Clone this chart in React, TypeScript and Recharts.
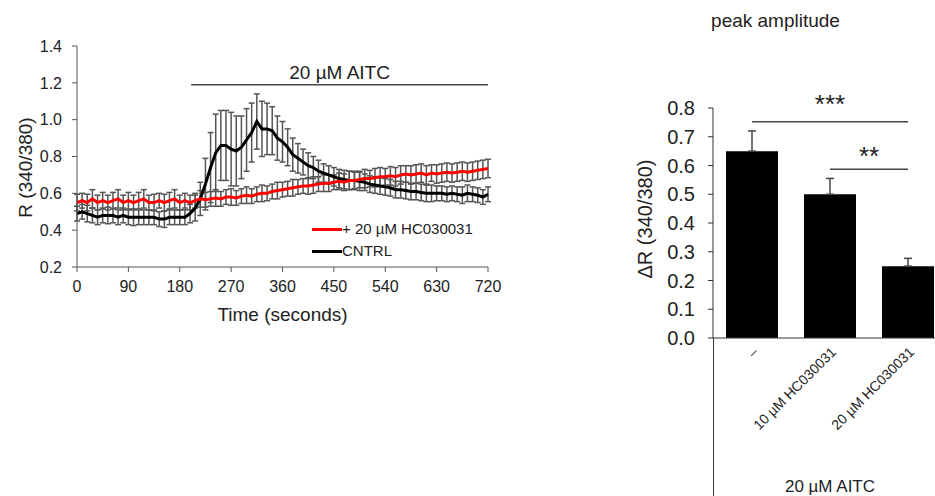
import {
  Bar,
  BarChart,
  ErrorBar,
  Label,
  Line,
  LineChart,
  ReferenceLine,
  XAxis,
  YAxis,
} from "recharts";

// time course, one sample every 9 s from 0 to 720 s
const times = Array.from({ length: 81 }, (_, i) => i * 9);

const cntrlMean = [
  0.49, 0.5, 0.49, 0.48, 0.47, 0.48, 0.48, 0.48, 0.47, 0.48, 0.47, 0.47, 0.47, 0.47, 0.47, 0.47, 0.46, 0.46, 0.47, 0.47, 0.47,
  0.47, 0.49, 0.52, 0.57, 0.65, 0.74, 0.82, 0.86, 0.86, 0.84, 0.83, 0.85, 0.89, 0.93, 0.99, 0.95, 0.95, 0.94, 0.9, 0.88, 0.85, 0.81, 0.79, 0.77, 0.75,
  0.74, 0.72, 0.71, 0.7, 0.69, 0.68, 0.675, 0.67, 0.67, 0.665, 0.66, 0.65, 0.645, 0.64, 0.635, 0.63, 0.62, 0.62, 0.615, 0.61, 0.61, 0.605, 0.6, 0.6,
  0.6, 0.6, 0.595, 0.6, 0.595, 0.59, 0.6, 0.595, 0.59, 0.58, 0.595,
];

const cntrlErr = [
  0.04, 0.04, 0.045, 0.04, 0.04, 0.04, 0.045, 0.04, 0.04, 0.04, 0.04, 0.045, 0.04, 0.04, 0.04, 0.04, 0.04, 0.045, 0.04, 0.04, 0.04,
  0.04, 0.05, 0.07, 0.09, 0.14, 0.19, 0.21, 0.19, 0.19, 0.2, 0.19, 0.17, 0.17, 0.16, 0.15, 0.15, 0.14, 0.13, 0.12, 0.11, 0.1, 0.09, 0.08, 0.07, 0.07,
  0.06, 0.06, 0.05, 0.05, 0.05, 0.05, 0.05, 0.05, 0.05, 0.05, 0.045, 0.045, 0.045, 0.045, 0.045, 0.045, 0.045, 0.045, 0.045, 0.045, 0.045, 0.045, 0.045, 0.045,
  0.04, 0.04, 0.04, 0.04, 0.04, 0.045, 0.045, 0.04, 0.04, 0.04, 0.04,
];

const hcMean = [
  0.55, 0.56, 0.55, 0.57, 0.55, 0.56, 0.55, 0.56, 0.57, 0.55, 0.56, 0.55, 0.56, 0.57, 0.55, 0.55, 0.56, 0.55, 0.56, 0.57, 0.55,
  0.56, 0.55, 0.56, 0.57, 0.565, 0.57, 0.575, 0.57, 0.58, 0.58, 0.575, 0.585, 0.59, 0.585, 0.595, 0.6, 0.6, 0.61, 0.615, 0.62, 0.625, 0.63, 0.635, 0.64, 0.64,
  0.645, 0.65, 0.655, 0.655, 0.66, 0.665, 0.66, 0.67, 0.67, 0.675, 0.68, 0.68, 0.685, 0.69, 0.69, 0.695, 0.69, 0.7, 0.705, 0.7, 0.705, 0.71, 0.7, 0.71,
  0.705, 0.71, 0.715, 0.71, 0.715, 0.72, 0.715, 0.72, 0.725, 0.73, 0.735,
];

const hcErr = [
  0.045, 0.04, 0.045, 0.05, 0.04, 0.045, 0.04, 0.045, 0.05, 0.04, 0.045, 0.04, 0.045, 0.05, 0.04, 0.045, 0.04, 0.045, 0.045, 0.05, 0.04,
  0.04, 0.04, 0.04, 0.045, 0.04, 0.04, 0.045, 0.04, 0.04, 0.045, 0.04, 0.04, 0.045, 0.04, 0.04, 0.045, 0.04, 0.04, 0.045, 0.04, 0.04, 0.045, 0.04, 0.04, 0.045,
  0.045, 0.04, 0.045, 0.045, 0.04, 0.045, 0.045, 0.05, 0.045, 0.045, 0.05, 0.045, 0.05, 0.05, 0.045, 0.05, 0.05, 0.05, 0.045, 0.05, 0.05, 0.05, 0.05, 0.045,
  0.05, 0.05, 0.05, 0.05, 0.05, 0.05, 0.05, 0.05, 0.05, 0.05, 0.05,
];

const timeTicks = [0, 90, 180, 270, 360, 450, 540, 630, 720];
const ratioTicks = [0.2, 0.4, 0.6, 0.8, 1.0, 1.2, 1.4];

// peak amplitude bars
const treatments = ["–", "10 µM HC030031", "20 µM HC030031"];
const peakMean = [0.65, 0.5, 0.25];
const peakErr = [0.07, 0.055, 0.027];
const peakTicks = [0, 0.1, 0.2, 0.3, 0.4, 0.5, 0.6, 0.7, 0.8];

const FONT = '"Liberation Sans", Arial, sans-serif';
const INK = "#222";
const ERR = "#555";

const traceData = times.map((t, i) => ({
  t,
  cntrl: cntrlMean[i],
  cntrlErr: cntrlErr[i],
  hc: hcMean[i],
  hcErr: hcErr[i],
}));

// only the upper whisker shows above a filled bar
const peakData = treatments.map((name, i) => ({
  name,
  value: peakMean[i],
  err: [0, peakErr[i]],
}));

function TreatmentTick({ x, y, payload }: any) {
  const tx = x + 7;
  const ty = y + 7;
  return (
    <text
      x={tx}
      y={ty}
      transform={`rotate(-45 ${tx} ${ty})`}
      textAnchor="end"
      fontSize={14}
      fill={INK}
      fontFamily={FONT}
    >
      {payload.value}
    </text>
  );
}

function LegendRow({ color, label, top }: { color: string; label: string; top: number }) {
  return (
    <div style={{ position: "absolute", left: 312, top, display: "flex", alignItems: "center", height: 18 }}>
      <div style={{ width: 30, height: 3, background: color }} />
      <span style={{ fontSize: 15, color: INK, lineHeight: "18px" }}>{label}</span>
    </div>
  );
}

export default function App() {
  return (
    <div
      style={{
        position: "absolute",
        left: 0,
        top: 0,
        width: 935,
        height: 496,
        overflow: "hidden",
        background: "#fff",
        fontFamily: FONT,
      }}
    >
      <div style={{ position: "absolute", left: 0, top: 0 }}>
        <LineChart
          width={510}
          height={330}
          data={traceData}
          margin={{ top: 46, right: 22, bottom: 0, left: 0 }}
        >
          <XAxis
            dataKey="t"
            type="number"
            domain={[0, 720]}
            ticks={timeTicks}
            height={63}
            tickSize={5}
            tickMargin={9}
            stroke="#555"
            tick={{ fontSize: 16, fill: INK, fontFamily: FONT }}
          >
            <Label value="Time (seconds)" position="center" dy={16} fontSize={19} fill={INK} fontFamily={FONT} />
          </XAxis>
          <YAxis
            type="number"
            domain={[0.2, 1.4]}
            ticks={ratioTicks}
            width={77}
            tickSize={5}
            tickMargin={10}
            stroke="#555"
            tickFormatter={(v) => Number(v).toFixed(1)}
            tick={{ fontSize: 16, fill: INK, fontFamily: FONT }}
          >
            <Label value="R (340/380)" angle={-90} position="center" dx={-13} dy={11} fontSize={19} fill={INK} fontFamily={FONT} />
          </YAxis>
          <ReferenceLine
            segment={[
              { x: 200, y: 1.19 },
              { x: 720, y: 1.19 },
            ]}
            stroke="#444"
            strokeWidth={1.5}
          >
            <Label value="20 µM AITC" position="top" offset={6} fontSize={19} fill={INK} fontFamily={FONT} />
          </ReferenceLine>
          <Line dataKey="cntrl" stroke="none" dot={false} legendType="none" isAnimationActive={false}>
            <ErrorBar dataKey="cntrlErr" width={3} strokeWidth={1.5} stroke={ERR} direction="y" />
          </Line>
          <Line dataKey="hc" stroke="none" dot={false} legendType="none" isAnimationActive={false}>
            <ErrorBar dataKey="hcErr" width={3} strokeWidth={1.5} stroke={ERR} direction="y" />
          </Line>
          <Line dataKey="cntrl" stroke="#000" strokeWidth={3} dot={false} isAnimationActive={false} />
          <Line dataKey="hc" stroke="#ff0000" strokeWidth={3} dot={false} isAnimationActive={false} />
        </LineChart>
      </div>

      <LegendRow color="#ff0000" label="+ 20 µM HC030031" top={220} />
      <LegendRow color="#000" label="CNTRL" top={242} />

      <div
        style={{
          position: "absolute",
          left: 700,
          width: 151,
          top: 10,
          textAlign: "center",
          fontSize: 19,
          lineHeight: "22px",
          color: INK,
        }}
      >
        peak amplitude
      </div>

      <div style={{ position: "absolute", left: 600, top: 0 }}>
        <BarChart
          width={360}
          height={496}
          data={peakData}
          margin={{ top: 108, right: 13, bottom: 0, left: 0 }}
          barSize={52}
        >
          <XAxis
            dataKey="name"
            height={158}
            tickLine={false}
            tickSize={0}
            tickMargin={8}
            stroke="#333"
            interval={0}
            tick={<TreatmentTick />}
          >
            <Label value="20 µM AITC" position="insideBottom" offset={4} fontSize={17} fill={INK} fontFamily={FONT} />
          </XAxis>
          <YAxis
            type="number"
            domain={[0, 0.8]}
            ticks={peakTicks}
            width={113}
            tickSize={5}
            tickMargin={13}
            stroke="#333"
            tickFormatter={(v) => Number(v).toFixed(1)}
            tick={{ fontSize: 20, fill: INK, fontFamily: FONT }}
          >
            <Label value="ΔR (340/380)" angle={-90} position="center" dx={-12} dy={-4} fontSize={20} fill={INK} fontFamily={FONT} />
          </YAxis>
          <Bar dataKey="value" fill="#000" isAnimationActive={false}>
            <ErrorBar dataKey="err" width={4} strokeWidth={1.5} stroke="#444" direction="y" />
          </Bar>
          <ReferenceLine
            segment={[
              { x: treatments[0], y: 0.752 },
              { x: treatments[2], y: 0.752 },
            ]}
            stroke="#444"
            strokeWidth={1.5}
          >
            <Label value="***" position="top" offset={9} fontSize={26} fill={INK} fontFamily={FONT} />
          </ReferenceLine>
          <ReferenceLine
            segment={[
              { x: treatments[1], y: 0.587 },
              { x: treatments[2], y: 0.587 },
            ]}
            stroke="#444"
            strokeWidth={1.5}
          >
            <Label value="**" position="top" offset={4} fontSize={26} fill={INK} fontFamily={FONT} />
          </ReferenceLine>
        </BarChart>
      </div>

      {/* the y axis of the bar chart runs on through the label area */}
      <div style={{ position: "absolute", left: 712.5, top: 338, width: 1, height: 158, background: "#333" }} />
    </div>
  );
}
